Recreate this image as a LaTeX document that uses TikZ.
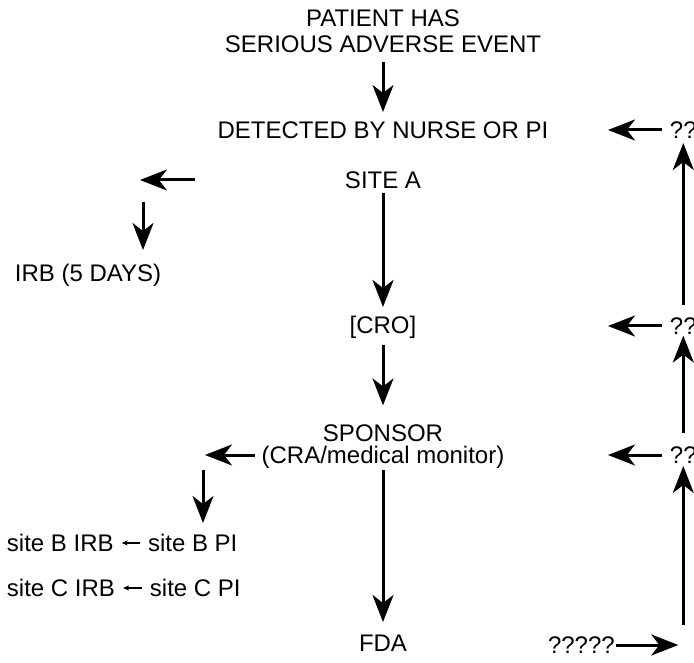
\documentclass[tikz,border=0pt]{standalone}
\usepackage{fontspec}
\setmainfont{Liberation Sans}
\usetikzlibrary{arrows.meta,calc}

\begin{document}
\begin{tikzpicture}[x=1pt,y=-1pt,
  lbl/.style={font=\fontsize{24}{28}\selectfont, inner sep=0pt, outer sep=0pt,
              text height=17.2pt, text depth=0pt},
  flow/.style={line width=3pt, -{Stealth[length=27pt,width=21pt,inset=8pt]}},
  tiny/.style={line width=1.1pt, -{Stealth[length=6pt,width=5pt,inset=1.5pt]}}]

\useasboundingbox (0,0) rectangle (694,663);
\clip (0,0) rectangle (694,663);

% main reporting chain
\node[lbl] (top1) at (383,18) {PATIENT HAS};
\node[lbl] (top2) at (383,44) {SERIOUS ADVERSE EVENT};
\node[lbl] (det)  at (383,130) {DETECTED BY NURSE OR PI};
\node[lbl] (siteA) at (383,180) {SITE A};
\node[lbl] (cro)  at (383,325) {[CRO]};
\node[lbl] (spon1) at (383,433) {SPONSOR};
\node[lbl] (spon2) at (383,455) {(CRA/medical monitor)};
\node[lbl] (fda)  at (383,643) {FDA};

% site A IRB branch
\node[lbl] (irb) at (88,273) {IRB (5 DAYS)};

% other sites
\node[lbl] (birb) at (60.3,543) {site B IRB};
\node[lbl] (bpi)  at (192.7,543) {site B PI};
\node[lbl] (cirb) at (61,588) {site C IRB};
\node[lbl] (cpi)  at (195.3,588) {site C PI};

% feedback column (runs past the right edge)
\node[lbl] (q1) at (683.3,130) {??};
\node[lbl] (q2) at (683.3,326) {??};
\node[lbl] (q3) at (683.3,455) {??};
\node[lbl] (q4) at (581.4,645) {?????};

% free ends of connectors
\coordinate (aout) at (195,180);
\coordinate (aturn) at (140,180);
\coordinate (adown) at (143,202);
\coordinate (sturn) at (205,455);
\coordinate (sdown) at (203,470);
\coordinate (q1tip) at (608,130);
\coordinate (q2tip) at (608,326);
\coordinate (q3tip) at (608,455);
\coordinate (corner) at (683.3,645);

% vertical chain
\draw[flow, shorten <=9.4pt, shorten >=9.4pt] (top2) -- (det);
\draw[flow, shorten <=4pt,   shorten >=9.4pt] (siteA) -- (cro);
\draw[flow, shorten <=11pt,  shorten >=19pt]  (cro) -- (spon1);
\draw[flow, shorten <=6.4pt, shorten >=12.4pt] (spon2) -- (fda);

% site A to IRB
\draw[flow] (aout) -- (aturn);
\draw[flow, shorten >=14.4pt] (adown) -- (adown |- irb.north);

% sponsor to other sites
\draw[flow, shorten <=6.7pt] (spon2.west) -- (sturn);
\draw[flow, shorten >=11.4pt] (sdown) -- (sdown |- bpi.north);
\draw[tiny, shorten <=8pt, shorten >=8pt] (bpi.west) -- (birb.east);
\draw[tiny, shorten <=8pt, shorten >=8pt] (cpi.west) -- (cirb.east);

% feedback column
\draw[flow, shorten <=8pt] (q1.west) -- (q1tip);
\draw[flow, shorten <=8pt] (q2.west) -- (q2tip);
\draw[flow, shorten <=8pt] (q3.west) -- (q3tip);
\draw[flow, shorten <=12.4pt, shorten >=4.4pt] (q2) -- (q1);
\draw[flow, shorten <=13.4pt, shorten >=1pt] (q3) -- (q2);
\draw[flow, shorten <=1.5pt, shorten >=5pt] (q4.east) -- (corner);
\draw[flow, shorten <=20pt, shorten >=2.4pt] (corner) -- (q3.south);

\end{tikzpicture}
\end{document}
